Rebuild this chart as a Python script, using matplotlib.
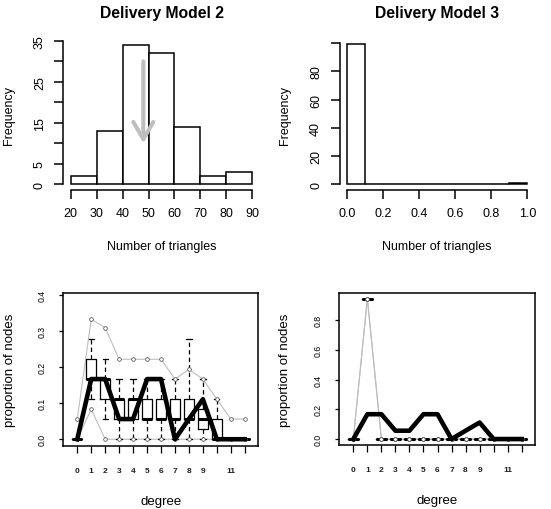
import matplotlib
matplotlib.use('Agg')
import matplotlib.pyplot as plt

plt.rcParams['font.family'] = ['Liberation Sans', 'DejaVu Sans']

W, H, DPI = 551, 510, 100

# histogram of triangle counts, delivery model 2
tri2_edges = [20, 30, 40, 50, 60, 70, 80, 90]
tri2_counts = [2, 13, 34, 32, 14, 2, 3]
tri2_observed = 48          # arrow marks the observed count
arrow_from, arrow_to = 30, 10

# histogram of triangle counts, delivery model 3
tri3_edges = [0.0, 0.1, 0.2, 0.3, 0.4, 0.5, 0.6, 0.7, 0.8, 0.9, 1.0]
tri3_counts = [99, 0, 0, 0, 0, 0, 0, 0, 0, 1]

# degree distribution goodness of fit
degrees = list(range(13))
degree_labels = ['0', '1', '2', '3', '4', '5', '6', '7', '8', '9', '', '11', '']
observed = [0, 0.167, 0.167, 0.056, 0.056, 0.167, 0.167, 0, 0.056, 0.111, 0, 0, 0]

m2_upper = [0.056, 0.333, 0.31, 0.222, 0.222, 0.222, 0.222, 0.167, 0.194, 0.167, 0.111, 0.056, 0.056]
m2_lower = [0, 0.083, 0, 0, 0, 0, 0, 0, 0, 0, 0, 0, 0]
m2_q1 = [0, 0.167, 0.111, 0.056, 0.056, 0.056, 0.056, 0.056, 0.056, 0.028, 0, 0, 0]
m2_med = [0, 0.167, 0.167, 0.111, 0.111, 0.056, 0.056, 0.056, 0.056, 0.056, 0, 0, 0]
m2_q3 = [0, 0.222, 0.167, 0.111, 0.111, 0.111, 0.111, 0.111, 0.111, 0.083, 0.056, 0, 0]
m2_wlo = [0, 0.111, 0.056, 0, 0, 0, 0, 0, 0, 0, 0, 0, 0]
m2_whi = [0, 0.278, 0.222, 0.167, 0.167, 0.167, 0.167, 0.167, 0.278, 0.167, 0.111, 0, 0]

m3_upper = [0, 0.944, 0, 0, 0, 0, 0, 0, 0, 0, 0, 0, 0]
m3_lower = [0, 0.944, 0, 0, 0, 0, 0, 0, 0, 0, 0, 0, 0]
m3_q1 = [0, 0.944, 0, 0, 0, 0, 0, 0, 0, 0, 0, 0, 0]
m3_med = [0, 0.944, 0, 0, 0, 0, 0, 0, 0, 0, 0, 0, 0]
m3_q3 = [0, 0.944, 0, 0, 0, 0, 0, 0, 0, 0, 0, 0, 0]
m3_wlo = [0, 0.944, 0, 0, 0, 0, 0, 0, 0, 0, 0, 0, 0]
m3_whi = [0, 0.944, 0, 0, 0, 0, 0, 0, 0, 0, 0, 0, 0]

GRAY = '#BEBEBE'

fig = plt.figure(figsize=(W / DPI, H / DPI), dpi=DPI)


def px_axes(l, t, r, b):
    return fig.add_axes([l / W, 1 - b / H, (r - l) / W, (b - t) / H])


def hist_panel(ax, edges, counts, title, yticks, ylabels, xticks, xlabels):
    widths = [edges[i + 1] - edges[i] for i in range(len(counts))]
    ax.bar(edges[:-1], counts, width=widths, align='edge',
           facecolor='white', edgecolor='black', linewidth=1.1)
    span = edges[-1] - edges[0]
    top = max(counts)
    ax.set_xlim(edges[0] - 0.04 * span, edges[-1] + 0.04 * span)
    ax.set_ylim(-0.04 * top, top * 1.04)
    for s in ['top', 'right']:
        ax.spines[s].set_visible(False)
    ax.spines['left'].set_bounds(yticks[0], yticks[-1])
    ax.spines['bottom'].set_bounds(xticks[0], xticks[-1])
    for s in ['left', 'bottom']:
        ax.spines[s].set_linewidth(1.1)
    ax.set_yticks(yticks)
    ax.set_yticklabels(ylabels, rotation=90, va='center')
    ax.set_xticks(xticks)
    ax.set_xticklabels(xlabels)
    ax.tick_params(axis='both', length=6.5, width=1.1, labelsize=9)
    ax.tick_params(axis='x', pad=6)
    ax.tick_params(axis='y', pad=6)
    ax.set_title(title, fontsize=11.3, fontweight='bold', y=1.122, va='center')
    ax.set_xlabel('Number of triangles', fontsize=9)
    ax.xaxis.set_label_coords(0.5, -0.372)
    ax.xaxis.label.set_va('center')
    ax.set_ylabel('Frequency', fontsize=9)
    ax.yaxis.set_label_coords(-0.278, 0.5)
    ax.yaxis.label.set_va('center')


def gof_panel(ax, upper, lower, q1, med, q3, wlo, whi, yticks, ylabels, ylim):
    ax.plot(degrees, upper, color=GRAY, lw=0.8, zorder=2)
    ax.plot(degrees, lower, color=GRAY, lw=0.8, zorder=2)
    ax.plot(degrees, upper, ls='none', marker='o', ms=2.6, mfc='white',
            mec='#404040', mew=0.5, zorder=2.5)
    ax.plot(degrees, lower, ls='none', marker='o', ms=2.6, mfc='white',
            mec='#404040', mew=0.5, zorder=2.5)
    stats = [dict(med=med[i], q1=q1[i], q3=q3[i], whislo=wlo[i], whishi=whi[i], fliers=[])
             for i in range(len(degrees))]
    ax.bxp(stats, positions=degrees, widths=0.75, capwidths=0.38, showfliers=False,
           manage_ticks=False,
           boxprops=dict(color='black', lw=0.9),
           whiskerprops=dict(color='black', lw=0.9, linestyle=(0, (3.5, 2.5))),
           capprops=dict(color='black', lw=0.9),
           medianprops=dict(color='black', lw=2.2))
    ax.plot(degrees, observed, color='black', lw=3.3, zorder=4)
    ax.set_xlim(-1.0, 12.95)
    ax.set_ylim(*ylim)
    for s in ax.spines.values():
        s.set_linewidth(1.1)
    ax.set_xticks(degrees)
    ax.set_xticklabels(degree_labels, fontsize=6, fontweight='bold', color='#202020')
    ax.set_yticks(yticks)
    ax.set_yticklabels(ylabels, rotation=90, va='center', fontsize=6.3)
    ax.tick_params(axis='x', length=5, width=0.9, pad=10)
    ax.tick_params(axis='y', length=3, width=0.9, pad=9)
    ax.set_xlabel('degree', fontsize=9.5)
    ax.xaxis.set_label_coords(0.5, -0.365)
    ax.xaxis.label.set_va('center')
    ax.set_ylabel('proportion of nodes', fontsize=9.5)
    ax.yaxis.set_label_coords(-0.275, 0.5)
    ax.yaxis.label.set_va('center')


ax1 = px_axes(63.3, 40.3, 259.7, 190.9)
hist_panel(ax1, tri2_edges, tri2_counts, 'Delivery Model 2',
           [0, 5, 10, 15, 20, 25, 30, 35], ['0', '5', '', '15', '', '25', '', '35'],
           tri2_edges, [str(e) for e in tri2_edges])
ax1.annotate('', xy=(tri2_observed, arrow_to), xytext=(tri2_observed, arrow_from),
             arrowprops=dict(arrowstyle='->,head_length=1.25,head_width=0.72',
                             color=GRAY, lw=2.9, shrinkA=0, shrinkB=0,
                             capstyle='round', joinstyle='round'))

ax2 = px_axes(339.5, 39.9, 534.5, 190.9)
hist_panel(ax2, tri3_edges, tri3_counts, 'Delivery Model 3',
           [0, 20, 40, 60, 80, 100], ['0', '20', '40', '60', '80', ''],
           [0.0, 0.2, 0.4, 0.6, 0.8, 1.0], ['0.0', '0.2', '0.4', '0.6', '0.8', '1.0'])

ax3 = px_axes(63.3, 294, 258, 446.7)
gof_panel(ax3, m2_upper, m2_lower, m2_q1, m2_med, m2_q3, m2_wlo, m2_whi,
          [0, 0.1, 0.2, 0.3, 0.4], ['0.0', '0.1', '0.2', '0.3', '0.4'], (-0.018, 0.406))

ax4 = px_axes(339.3, 294, 535, 445.7)
gof_panel(ax4, m3_upper, m3_lower, m3_q1, m3_med, m3_q3, m3_wlo, m3_whi,
          [0, 0.2, 0.4, 0.6, 0.8], ['0.0', '0.2', '0.4', '0.6', '0.8'], (-0.038, 0.982))

fig.savefig('out.png', dpi=DPI, facecolor='white')
